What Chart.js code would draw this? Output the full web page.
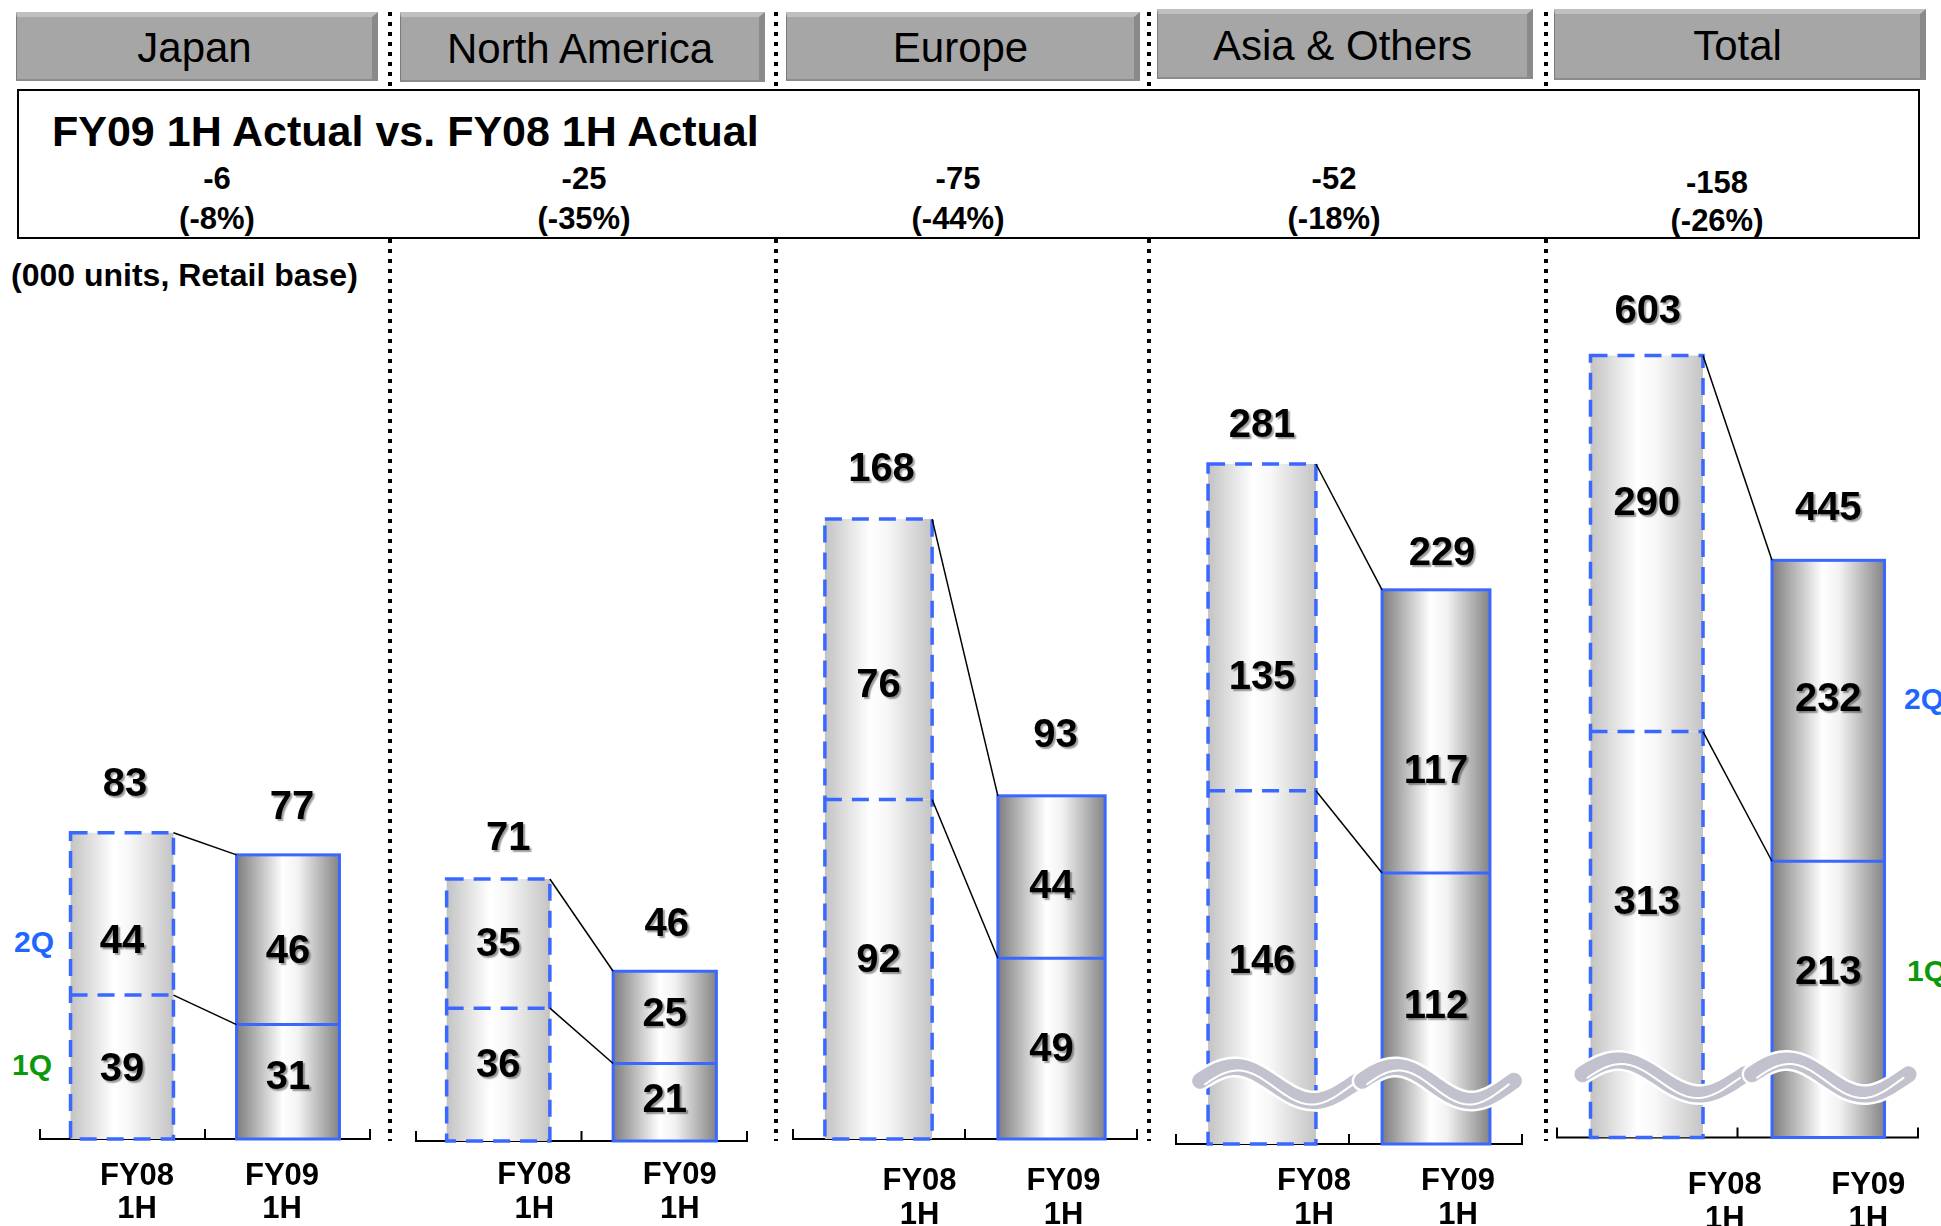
<!DOCTYPE html>
<html>
<head>
<meta charset="utf-8">
<title>FY09 1H Actual vs. FY08 1H Actual</title>
<script src="https://cdn.jsdelivr.net/npm/chart.js@4.4.1/dist/chart.umd.min.js"></script>
<style>
  html, body { margin: 0; padding: 0; background: #fff; }
  body { width: 1941px; height: 1226px; position: relative; overflow: hidden;
         font-family: "Liberation Sans", Arial, Helvetica, sans-serif; color: #000; }
  .tab { position: absolute; box-sizing: border-box; background: #a6a6a6;
         border-top: 5px solid #c0c0c0; border-right: 6px solid #8a8a8a;
         border-bottom: 2px solid #8c8c8c; border-left: 1px solid #7b7b7b;
         font-size: 42px; line-height: 1; display: flex; align-items: center; justify-content: center; }
  .box { position: absolute; left: 17px; top: 89px; width: 1903px; height: 150px;
         box-sizing: border-box; border: 2px solid #000; background: #fff; }
  .txt { position: absolute; line-height: 1; white-space: nowrap; font-weight: bold; }
  .sep { position: absolute; width: 4px;
         background: repeating-linear-gradient(to bottom, #000 0 4px, transparent 4px 10px); }
  canvas { position: absolute; }
</style>
</head>
<body>
<script>
// ---- data (000 units, retail base) ----
const regions = ['Japan', 'North America', 'Europe', 'Asia & Others', 'Total'];
const periods = [['FY08', '1H'], ['FY09', '1H']];
const quarterNames = ['1Q', '2Q'];
const firstQuarter  = [[39, 31], [36, 21], [92, 49], [146, 112], [313, 213]];
const secondQuarter = [[44, 46], [35, 25], [76, 44], [135, 117], [290, 232]];
const changeUnits   = ['-6', '-25', '-75', '-52', '-158'];
const changePercent = ['(-8%)', '(-35%)', '(-44%)', '(-18%)', '(-26%)'];
const titleText = 'FY09 1H Actual vs. FY08 1H Actual';
const unitNote = '(000 units, Retail base)';

// ---- page styling / panel geometry ----
const FONT = '"Liberation Sans", Arial, Helvetica, sans-serif';
const BLUE = '#3a68ff';
const CAT_PCT = 0.62;
const CHART_TOP = 240;
const PAD_X = 30;
const panels = [
  { tab: [16, 12, 378, 81],   diffX: 217,  diffY: [178, 218], left: 39,     right: 371,    base: 1139,   ppu: 3.69,
    brk: false, catDx: [15, -6], catDy: [35, 68], tot: [[3, -51], [4, -50]], seg1: [0, -7],  seg2: [25, 9] },
  { tab: [400, 12, 765, 82],  diffX: 584,  diffY: [178, 218], left: 415,    right: 748,    base: 1141,   ppu: 3.69,
    brk: false, catDx: [36, 15], catDy: [32, 66], tot: [[10, -43], [2, -50]], seg1: [-12, -5], seg2: [-2, -6] },
  { tab: [786, 12, 1140, 81], diffX: 958,  diffY: [178, 218], left: 791.5,  right: 1137.5, base: 1139,   ppu: 3.69,
    brk: false, catDx: [41, 12], catDy: [40, 74], tot: [[3, -52], [4, -63]], seg1: [-12, -2], seg2: [23, 7] },
  { tab: [1157, 9, 1533, 79], diffX: 1334, diffY: [178, 218], left: 1174.5, right: 1522.5, base: 1144,   ppu: 2.42,
    brk: true,  catDx: [52, 22], catDy: [35, 69], tot: [[0, -41], [6, -39]], seg1: [-9, -5], seg2: [47, 37] },
  { tab: [1554, 9, 1926, 80], diffX: 1717, diffY: [182, 220], left: 1556,   right: 1919,   base: 1137.5, ppu: 1.297,
    brk: true,  catDx: [78, 40], catDy: [45, 79], tot: [[1, -47], [0, -55]], seg1: [-35, -30], seg2: [-43, -14] }
];
const separatorX = [390, 776, 1149, 1546];
const lightStops = [[0, '#c3c3c3'], [0.42, '#ffffff'], [0.58, '#f7f7f7'], [1, '#c4c4c4']];
const darkStops  = [[0, '#7d7d7d'], [0.45, '#ffffff'], [0.6, '#f2f2f2'], [1, '#848484']];

// ---- static text and frames ----
function addText(text, x, cy, size, opts = {}) {
  const d = document.createElement('div');
  d.className = 'txt';
  d.textContent = text;
  d.style.fontSize = size + 'px';
  d.style.top = (cy - 0.4885 * size) + 'px';
  if (opts.center) { d.style.left = (x - 200) + 'px'; d.style.width = '400px'; d.style.textAlign = 'center'; }
  else d.style.left = x + 'px';
  if (opts.color) d.style.color = opts.color;
  document.body.appendChild(d);
  return d;
}

separatorX.forEach(x => {
  [[12, 89], [239, 1141]].forEach(([y0, y1]) => {
    const s = document.createElement('div');
    s.className = 'sep';
    s.style.left = (x - 2) + 'px';
    s.style.top = y0 + 'px';
    s.style.height = (y1 - y0) + 'px';
    document.body.appendChild(s);
  });
});

regions.forEach((name, k) => {
  const [x0, y0, x1, y1] = panels[k].tab;
  const t = document.createElement('div');
  t.className = 'tab';
  t.textContent = name;
  t.style.left = x0 + 'px'; t.style.top = y0 + 'px';
  t.style.width = (x1 - x0) + 'px'; t.style.height = (y1 - y0) + 'px';
  document.body.appendChild(t);
});

const box = document.createElement('div');
box.className = 'box';
document.body.appendChild(box);
addText(titleText, 52, 131, 43);
regions.forEach((_, k) => {
  const p = panels[k];
  addText(changeUnits[k], p.diffX, p.diffY[0], 31, { center: true });
  addText(changePercent[k], p.diffX, p.diffY[1], 31, { center: true });
});
addText(unitNote, 11, 275, 32);

// quarter keys beside the first and last panels
addText(quarterNames[1], 14, 942, 30, { color: '#1f66ff' });
addText(quarterNames[0], 12, 1065, 30, { color: '#0b990b' });
addText(quarterNames[1], 1904, 699, 30, { color: '#1f66ff' });
addText(quarterNames[0], 1907, 971, 30, { color: '#0b990b' });

// ---- bar fill: cylinder-like horizontal gradient ----
function barFill(c) {
  const chart = c.chart, area = chart.chartArea;
  if (!area || c.dataIndex === undefined) return '#dddddd';
  const xs = chart.scales.x;
  const cx = xs.getPixelForValue(c.dataIndex);
  const half = ((area.right - area.left) / periods.length) * CAT_PCT / 2;
  const g = chart.ctx.createLinearGradient(cx - half, 0, cx + half, 0);
  (c.dataIndex === 0 ? lightStops : darkStops).forEach(([o, col]) => g.addColorStop(o, col));
  return g;
}

function waveCurve(ctx, x0, x1, cy, amp) {
  ctx.beginPath();
  for (let s = 0; s <= 60; s++) {
    const t = s / 60;
    const x = x0 + (x1 - x0) * t;
    const y = cy - amp * Math.sin(2 * Math.PI * (t + 0.03));
    if (s === 0) ctx.moveTo(x, y); else ctx.lineTo(x, y);
  }
}

function numberText(ctx, text, x, cy, size) {
  ctx.save();
  ctx.font = `bold ${size}px ${FONT}`;
  ctx.textAlign = 'center';
  ctx.textBaseline = 'alphabetic';
  ctx.shadowColor = 'rgba(0,0,0,0.4)';
  ctx.shadowOffsetX = 2;
  ctx.shadowOffsetY = 2;
  ctx.shadowBlur = 1.5;
  ctx.fillStyle = '#000';
  ctx.fillText(text, x, cy + 0.358 * size);
  ctx.restore();
}

// ---- per-panel decorations drawn from the bar elements ----
function panelDecor(p) {
  return {
    id: 'panelDecor',
    beforeDatasetsDraw(chart) {
      const { ctx, chartArea: a } = chart;
      const mid = (a.left + a.right) / 2;
      ctx.save();
      ctx.strokeStyle = '#000';
      ctx.lineWidth = 2;
      ctx.beginPath();
      ctx.moveTo(a.left, a.bottom); ctx.lineTo(a.right, a.bottom);
      [a.left + 1, mid, a.right - 1].forEach(x => { ctx.moveTo(x, a.bottom); ctx.lineTo(x, a.bottom - 10); });
      ctx.stroke();
      ctx.restore();
    },
    afterDatasetsDraw(chart) {
      const { ctx, chartArea: a } = chart;
      const low = chart.getDatasetMeta(0).data;
      const high = chart.getDatasetMeta(1).data;
      const geo = (el) => el.getProps(['x', 'y', 'base', 'width'], true);

      // outlines: dashed for FY08, solid for FY09; one outer frame plus the quarter divider
      ctx.save();
      ctx.strokeStyle = BLUE;
      low.forEach((el, i) => {
        const b1 = geo(el), b2 = geo(high[i]);
        const l = b1.x - b1.width / 2, r = b1.x + b1.width / 2;
        ctx.setLineDash(i === 0 ? [17, 10] : []);
        ctx.lineWidth = i === 0 ? 3.5 : 3;
        ctx.strokeRect(l, b2.y, b1.width, b1.base - b2.y);
        ctx.beginPath();
        ctx.moveTo(l, b1.y);
        ctx.lineTo(r, b1.y);
        ctx.stroke();
      });
      ctx.restore();

      // connectors between the two periods
      ctx.save();
      ctx.strokeStyle = '#000';
      ctx.lineWidth = 1.5;
      [low, high].forEach(set => {
        const b0 = geo(set[0]), b1 = geo(set[1]);
        ctx.beginPath();
        ctx.moveTo(b0.x + b0.width / 2, b0.y);
        ctx.lineTo(b1.x - b1.width / 2, b1.y);
        ctx.stroke();
      });
      ctx.restore();

      // axis break marks
      if (p.brk) {
        const ext = [[-8, 42], [-20, 24]];
        low.forEach((el, i) => {
          const b = geo(el);
          const x0 = b.x - b.width / 2 + ext[i][0];
          const x1 = b.x + b.width / 2 + ext[i][1];
          const cy = a.bottom - 60;
          ctx.save();
          ctx.lineCap = 'round';
          waveCurve(ctx, x0, x1, cy, 17);
          ctx.strokeStyle = '#ffffff'; ctx.lineWidth = 21; ctx.stroke();
          waveCurve(ctx, x0, x1, cy, 17);
          ctx.strokeStyle = '#c2c2ce'; ctx.lineWidth = 16; ctx.stroke();
          waveCurve(ctx, x0 + 5, x1 - 5, cy + 3.5, 17);
          ctx.strokeStyle = '#ffffff'; ctx.lineWidth = 2; ctx.stroke();
          ctx.restore();
        });
      }

      // values inside each segment and totals on top
      const k = panels.indexOf(p);
      low.forEach((el, i) => {
        const b1 = geo(el), b2 = geo(high[i]);
        const v1 = firstQuarter[k][i], v2 = secondQuarter[k][i];
        numberText(ctx, String(v1), b1.x, (b1.y + b1.base) / 2 + p.seg1[i], 40);
        numberText(ctx, String(v2), b2.x, (b2.y + b2.base) / 2 + p.seg2[i], 40);
        numberText(ctx, String(v1 + v2), b2.x + p.tot[i][0], b2.y + p.tot[i][1], 40);
      });

      // period labels under the axis
      ctx.save();
      ctx.font = `bold 31px ${FONT}`;
      ctx.textAlign = 'center';
      ctx.textBaseline = 'alphabetic';
      ctx.fillStyle = '#000';
      low.forEach((el, i) => {
        const b = geo(el);
        periods[i].forEach((line, j) => {
          ctx.fillText(line, b.x + p.catDx[i], a.bottom + p.catDy[j] + 0.358 * 31);
        });
      });
      ctx.restore();
    }
  };
}

// ---- one stacked bar chart per region ----
panels.forEach((p, k) => {
  const cv = document.createElement('canvas');
  const W = Math.round(p.right - p.left + 2 * PAD_X);
  const H = 1226 - CHART_TOP;
  cv.width = W; cv.height = H;
  cv.style.left = (p.left - PAD_X) + 'px';
  cv.style.top = CHART_TOP + 'px';
  cv.style.width = W + 'px';
  cv.style.height = H + 'px';
  document.body.appendChild(cv);

  new Chart(cv, {
    type: 'bar',
    data: {
      labels: periods,
      datasets: [
        { label: quarterNames[0], data: firstQuarter[k], backgroundColor: barFill, borderWidth: 0,
          categoryPercentage: CAT_PCT, barPercentage: 1 },
        { label: quarterNames[1], data: secondQuarter[k], backgroundColor: barFill, borderWidth: 0,
          categoryPercentage: CAT_PCT, barPercentage: 1 }
      ]
    },
    options: {
      responsive: false,
      animation: false,
      devicePixelRatio: 1,
      layout: { padding: { left: PAD_X, right: W - PAD_X - (p.right - p.left), top: 0, bottom: 1226 - p.base } },
      scales: {
        x: { display: false, stacked: true },
        y: { display: false, stacked: true, min: 0, max: (p.base - CHART_TOP) / p.ppu }
      },
      plugins: { legend: { display: false }, tooltip: { enabled: false } }
    },
    plugins: [panelDecor(p)]
  });
});
</script>
</body>
</html>
